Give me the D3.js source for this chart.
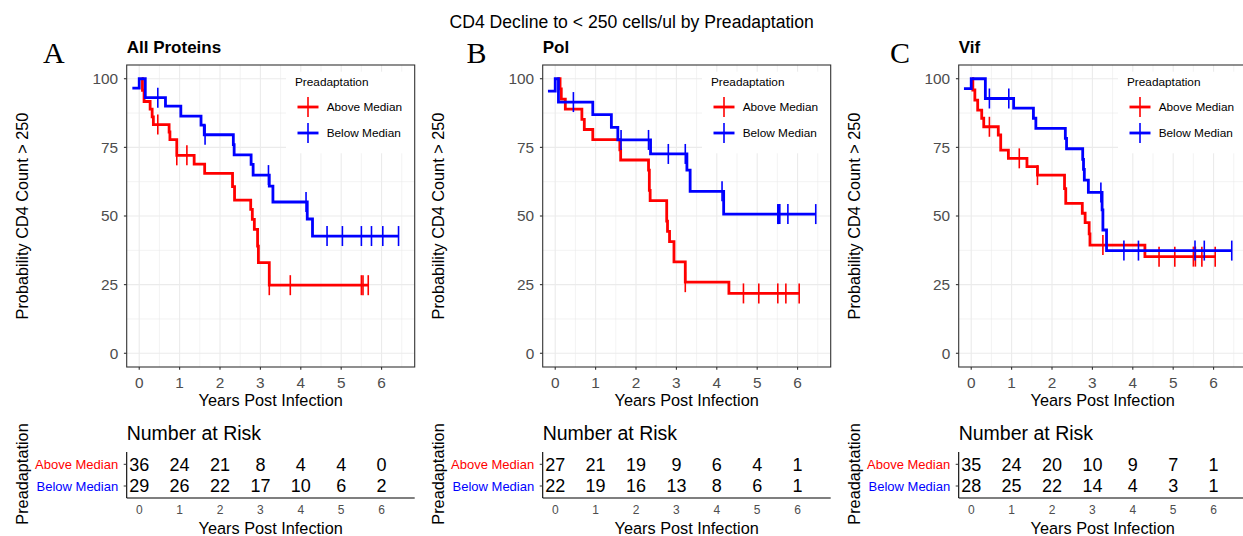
<!DOCTYPE html>
<html>
<head>
<meta charset="utf-8">
<script src="https://cdn.jsdelivr.net/npm/d3@7"></script>
<style>
  body { margin: 0; background: #fff; }
  svg { display: block; }
  text { font-family: "Liberation Sans", Arial, Helvetica, sans-serif; }
</style>
</head>
<body>
<svg id="chart" width="1243" height="536"></svg>
<script>
// ---- data ---------------------------------------------------------------
const mainTitle = "CD4 Decline to < 250 cells/ul by Preadaptation";
const panelTitles = ["All Proteins", "Pol", "Vif"];
const panelLetters = ["A", "B", "C"];
const groups = ["Above Median", "Below Median"];
const groupColors = ["#FF0000", "#0000FF"];
const yearTicks = [0, 1, 2, 3, 4, 5, 6];
const survTicks = [0, 25, 50, 75, 100];

// All Proteins
const allAboveTime = [0.06, 0.08, 0.12, 0.27, 0.32, 0.35, 0.74, 0.76, 0.93, 1.36, 1.62, 2.31, 2.36, 2.76, 2.80, 2.85, 2.93, 2.95, 3.22];
const allAboveSurv = [100, 95.8, 91.7, 88.9, 86.1, 83.3, 80.6, 77.8, 72.1, 68.9, 65.5, 60.7, 55.8, 52.4, 48.8, 45.1, 39.0, 33.0, 24.8];
const allAboveCensor = [0.46, 0.93, 1.18, 3.22, 3.74, 5.50, 5.54, 5.67];
const allBelowTime = [-0.17, 0.0, 0.15, 0.65, 1.03, 1.53, 1.61, 2.33, 2.35, 2.77, 2.82, 3.22, 3.31, 4.16, 4.29];
const allBelowSurv = [96.6, 100, 93.1, 90.0, 86.4, 83.1, 79.6, 76.0, 72.3, 68.8, 64.9, 60.9, 55.1, 48.9, 42.7];
const allBelowCensor = [0.46, 1.63, 3.20, 4.13, 4.65, 5.03, 5.50, 5.75, 6.03, 6.42];
const allAboveRisk = [36, 24, 21, 8, 4, 4, 0];
const allBelowRisk = [29, 26, 22, 17, 10, 6, 2];

// Pol
const polAboveTime = [0.05, 0.12, 0.15, 0.25, 0.66, 0.72, 0.93, 1.60, 1.62, 2.31, 2.33, 2.35, 2.76, 2.78, 2.83, 2.94, 3.22, 4.30];
const polAboveSurv = [100, 96.3, 92.6, 88.9, 85.2, 81.5, 77.8, 74.1, 70.4, 66.7, 59.3, 55.6, 48.1, 44.4, 40.7, 33.3, 25.9, 21.8];
const polAboveCensor = [3.22, 4.66, 5.04, 5.51, 5.71, 6.04];
const polBelowTime = [-0.18, 0.0, 0.08, 0.93, 1.39, 1.55, 2.36, 3.26, 3.34, 4.17];
const polBelowSurv = [95.5, 100, 91.5, 86.9, 82.3, 77.7, 72.6, 66.7, 59.0, 50.7];
const polBelowCensor = [0.45, 1.63, 2.31, 2.80, 3.22, 4.13, 5.51, 5.53, 5.56, 5.76, 6.45];
const polAboveRisk = [27, 21, 19, 9, 6, 4, 1];
const polBelowRisk = [22, 19, 16, 13, 8, 6, 1];

// Vif
const vifAboveTime = [0.02, 0.04, 0.09, 0.16, 0.26, 0.31, 0.67, 0.73, 0.92, 1.38, 1.64, 2.31, 2.34, 2.75, 2.82, 2.92, 2.94, 4.30];
const vifAboveSurv = [100, 95.9, 92.2, 88.6, 85.6, 82.5, 79.5, 74.0, 71.0, 68.0, 64.9, 60.0, 54.6, 51.0, 47.6, 43.5, 39.4, 35.2];
const vifAboveCensor = [0.45, 1.19, 1.64, 3.26, 4.65, 5.04, 5.50, 5.55, 5.71, 6.04];
const vifBelowTime = [-0.18, 0.0, 0.35, 1.05, 1.54, 1.60, 2.33, 2.36, 2.76, 2.78, 2.80, 2.90, 3.24, 3.26, 3.35];
const vifBelowSurv = [96.4, 100, 92.8, 89.3, 85.6, 81.9, 78.3, 74.5, 70.6, 67.0, 63.1, 58.6, 52.2, 44.9, 37.4];
const vifBelowCensor = [0.45, 0.93, 3.21, 3.78, 4.14, 5.54, 5.77, 6.45];
const vifAboveRisk = [35, 24, 20, 10, 9, 7, 1];
const vifBelowRisk = [28, 25, 22, 14, 4, 3, 1];

const panels = [
  { title: panelTitles[0], letter: panelLetters[0],
    series: [
      { time: allAboveTime, surv: allAboveSurv, censor: allAboveCensor, risk: allAboveRisk },
      { time: allBelowTime, surv: allBelowSurv, censor: allBelowCensor, risk: allBelowRisk } ] },
  { title: panelTitles[1], letter: panelLetters[1],
    series: [
      { time: polAboveTime, surv: polAboveSurv, censor: polAboveCensor, risk: polAboveRisk },
      { time: polBelowTime, surv: polBelowSurv, censor: polBelowCensor, risk: polBelowRisk } ] },
  { title: panelTitles[2], letter: panelLetters[2],
    series: [
      { time: vifAboveTime, surv: vifAboveSurv, censor: vifAboveCensor, risk: vifAboveRisk },
      { time: vifBelowTime, surv: vifBelowSurv, censor: vifBelowCensor, risk: vifBelowRisk } ] }
];

// ---- layout -------------------------------------------------------------
const svg = d3.select("#chart");
const panelStep = 416;
const plotLeft0 = 126.7, plotW = 288, plotTop = 65, plotH = 302;
const letterX = [43, 466.5, 890];
const tickGrey = "#4D4D4D";
const gridCol = "#EBEBEB";

svg.append("text")
  .attr("x", 631.7).attr("y", 28.3)
  .attr("text-anchor", "middle")
  .attr("font-size", 17.6)
  .attr("fill", "#000")
  .text(mainTitle);

panels.forEach((panel, pi) => {
  const left = plotLeft0 + pi * panelStep;
  const right = left + plotW;
  const g = svg.append("g");

  const x = d3.scaleLinear().domain([-0.31, 6.82]).range([left, right]);
  const y = d3.scaleLinear().domain([-5, 105]).range([plotTop + plotH, plotTop]);

  // panel letter and title
  g.append("text").attr("x", letterX[pi]).attr("y", 63.3)
    .attr("font-family", "'Liberation Serif', 'Times New Roman', serif")
    .style("font-family", "'Liberation Serif', 'Times New Roman', serif")
    .attr("font-size", 30).text(panel.letter);
  g.append("text").attr("x", left).attr("y", 52.7)
    .attr("font-size", 17).attr("font-weight", "bold").text(panel.title);

  // background and grid
  g.append("rect").attr("x", left).attr("y", plotTop).attr("width", plotW).attr("height", plotH).attr("fill", "#fff");
  const minorX = d3.range(0.5, 7, 1).filter(v => v < 6.82);
  const minorY = [12.5, 37.5, 62.5, 87.5];
  g.selectAll(null).data(minorX).join("line")
    .attr("x1", d => x(d)).attr("x2", d => x(d)).attr("y1", plotTop).attr("y2", plotTop + plotH)
    .attr("stroke", gridCol).attr("stroke-width", 0.6);
  g.selectAll(null).data(minorY).join("line")
    .attr("x1", left).attr("x2", right).attr("y1", d => y(d)).attr("y2", d => y(d))
    .attr("stroke", gridCol).attr("stroke-width", 0.6);
  g.selectAll(null).data(yearTicks).join("line")
    .attr("x1", d => x(d)).attr("x2", d => x(d)).attr("y1", plotTop).attr("y2", plotTop + plotH)
    .attr("stroke", gridCol).attr("stroke-width", 1.1);
  g.selectAll(null).data(survTicks).join("line")
    .attr("x1", left).attr("x2", right).attr("y1", d => y(d)).attr("y2", d => y(d))
    .attr("stroke", gridCol).attr("stroke-width", 1.1);

  // survival curves and censor marks
  const line = d3.line().x(d => x(d[0])).y(d => y(d[1])).curve(d3.curveStepAfter);
  panel.series.forEach((s, si) => {
    const pts = s.time.map((t, i) => [t, s.surv[i]]);
    const end = Math.max(s.time[s.time.length - 1], d3.max(s.censor));
    pts.push([end, s.surv[s.surv.length - 1]]);
    g.append("path").attr("d", line(pts)).attr("fill", "none")
      .attr("stroke", groupColors[si]).attr("stroke-width", 2.8);
    const survAt = t => {
      let v = s.surv[0];
      s.time.forEach((tt, i) => { if (tt <= t + 1e-9) v = s.surv[i]; });
      return v;
    };
    g.selectAll(null).data(s.censor).join("line")
      .attr("x1", d => x(d)).attr("x2", d => x(d))
      .attr("y1", d => y(survAt(d)) - 10).attr("y2", d => y(survAt(d)) + 10)
      .attr("stroke", groupColors[si]).attr("stroke-width", 1.6);
  });

  // legend
  const lgX = left + 159.3;
  g.append("rect").attr("x", lgX).attr("y", 71.7).attr("width", right - lgX).attr("height", 81.6).attr("fill", "#fff");
  g.append("text").attr("x", left + 168.3).attr("y", 86).attr("font-size", 11.8).text("Preadaptation");
  groups.forEach((name, gi) => {
    const cy = 107 + gi * 26;
    const cx = left + 181.3;
    g.append("line").attr("x1", cx - 10.5).attr("x2", cx + 10.5).attr("y1", cy).attr("y2", cy)
      .attr("stroke", groupColors[gi]).attr("stroke-width", 2.8);
    g.append("line").attr("x1", cx).attr("x2", cx).attr("y1", cy - 10).attr("y2", cy + 10)
      .attr("stroke", groupColors[gi]).attr("stroke-width", 1.6);
    g.append("text").attr("x", left + 200).attr("y", cy + 4.2).attr("font-size", 11.8).text(name);
  });

  // border, ticks, tick labels
  g.append("rect").attr("x", left).attr("y", plotTop).attr("width", plotW).attr("height", plotH)
    .attr("fill", "none").attr("stroke", "#333333").attr("stroke-width", 1.1);
  g.selectAll(null).data(survTicks).join("line")
    .attr("x1", left - 2.8).attr("x2", left).attr("y1", d => y(d)).attr("y2", d => y(d))
    .attr("stroke", "#333333").attr("stroke-width", 1.1);
  g.selectAll(null).data(survTicks).join("text")
    .attr("x", left - 8.5).attr("y", d => y(d) + 5.4)
    .attr("text-anchor", "end").attr("font-size", 15.4).attr("fill", tickGrey).text(d => d);
  g.selectAll(null).data(yearTicks).join("line")
    .attr("x1", d => x(d)).attr("x2", d => x(d)).attr("y1", plotTop + plotH).attr("y2", plotTop + plotH + 2.8)
    .attr("stroke", "#333333").attr("stroke-width", 1.1);
  g.selectAll(null).data(yearTicks).join("text")
    .attr("x", d => x(d)).attr("y", 387.6)
    .attr("text-anchor", "middle").attr("font-size", 15.4).attr("fill", tickGrey).text(d => d);

  // axis titles
  g.append("text").attr("x", (left + right) / 2).attr("y", 405.8)
    .attr("text-anchor", "middle").attr("font-size", 16.3).text("Years Post Infection");
  const yTitleX = 22.5 + pi * panelStep;
  g.append("text").attr("transform", `translate(${yTitleX + 5.8},${plotTop + plotH / 2}) rotate(-90)`)
    .attr("text-anchor", "middle").attr("font-size", 16.3).text("Probability CD4 Count > 250");

  // ---- number-at-risk table ----
  g.append("text").attr("x", left).attr("y", 440).attr("font-size", 19.5).text("Number at Risk");
  const rowY = [464.3, 486];
  g.append("line").attr("x1", left).attr("x2", left).attr("y1", 452).attr("y2", 498)
    .attr("stroke", "#000").attr("stroke-width", 1.1);
  g.append("line").attr("x1", left).attr("x2", right).attr("y1", 498).attr("y2", 498)
    .attr("stroke", "#000").attr("stroke-width", 1.1);
  groups.forEach((name, gi) => {
    g.append("line").attr("x1", left - 3).attr("x2", left).attr("y1", rowY[gi]).attr("y2", rowY[gi])
      .attr("stroke", "#333333").attr("stroke-width", 1);
    g.append("text").attr("x", left - 8.5).attr("y", rowY[gi] + 4.6)
      .attr("text-anchor", "end").attr("font-size", 13).attr("fill", groupColors[gi]).text(name);
    g.selectAll(null).data(panel.series[gi].risk).join("text")
      .attr("x", (d, i) => x(yearTicks[i])).attr("y", rowY[gi] + 6.4)
      .attr("text-anchor", "middle").attr("font-size", 18).attr("fill", "#000").text(d => d);
  });
  g.selectAll(null).data(yearTicks).join("text")
    .attr("x", d => x(d)).attr("y", 514.3)
    .attr("text-anchor", "middle").attr("font-size", 12).attr("fill", tickGrey).text(d => d);
  g.append("text").attr("x", (left + right) / 2).attr("y", 533.5)
    .attr("text-anchor", "middle").attr("font-size", 16.3).text("Years Post Infection");
  g.append("text").attr("transform", `translate(${yTitleX + 5.8},474) rotate(-90)`)
    .attr("text-anchor", "middle").attr("font-size", 16.3).text("Preadaptation");
});
</script>
</body>
</html>
